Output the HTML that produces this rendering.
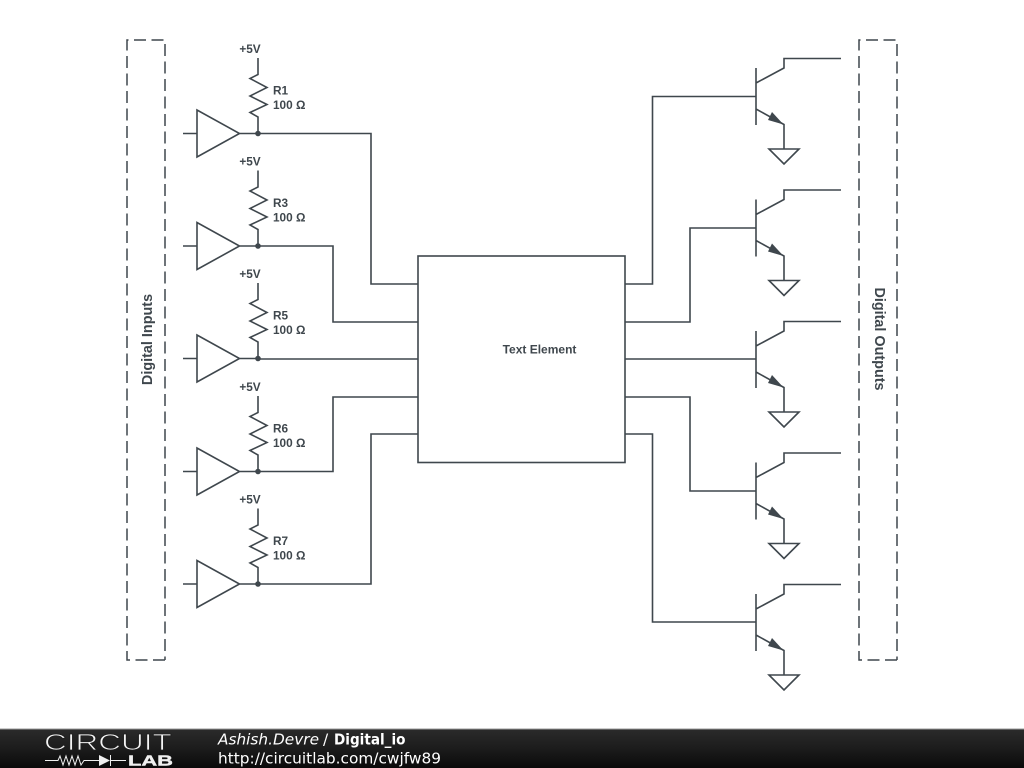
<!DOCTYPE html>
<html><head><meta charset="utf-8"><style>
html,body{margin:0;padding:0;background:#fff}
svg{display:block}
</style></head><body>
<svg width="1024" height="768" viewBox="0 0 1024 768" xmlns="http://www.w3.org/2000/svg">
<defs>
<linearGradient id="g" x1="0" y1="0" x2="0" y2="1"><stop offset="0" stop-color="#2b2b2b"/><stop offset="0.5" stop-color="#1c1c1c"/><stop offset="1" stop-color="#0a0a0a"/></linearGradient>
<g id="q">
<path d="M756 68V125M756 83L784 68V58.500H841M756 109L784 124.500V149M769 149H799L784 164Z"/>
<path d="M783.500 124.500L768 120L772 112Z" fill="#3f474d" stroke="none"/>
</g>
</defs>
<style>
.t{font-family:"Liberation Sans",sans-serif;font-weight:bold;fill:#3f474d;stroke:none}
.w{fill:none;stroke:#3f474d;stroke-width:1.600}
</style>
<rect width="1024" height="768" fill="#fff"/>
<g class="w">
<path d="M165 660H127V40H165V660" stroke-dasharray="12 5.500" stroke-width="1.500"/>
<path d="M897 660H859V40H897V660" stroke-dasharray="12 5.500" stroke-width="1.500"/>
<rect x="418" y="256" width="207" height="206.500"/>
<path d="M258 133.500H371V284H418"/>
<path d="M258 246H333V322H418"/>
<path d="M258 359H418"/>
<path d="M258 471.500H333V397H418"/>
<path d="M258 584H371V434H418"/>
<path d="M625 284H652.500V96.500H756"/>
<path d="M625 322H690V228H756"/>
<path d="M625 359H756"/>
<path d="M625 397H690V491H756"/>
<path d="M625 434H652.500V622H756"/>

<path d="M258 58V74.500L250 78.500L267 87.500L250 96L267 104.500L250 112.500L258 117V133.500"/>
<path d="M197 110V157L239.500 133.500ZM183 133.500H197M239.500 133.500H258"/>
<g transform="translate(0,112.500)"><path d="M258 58V74.500L250 78.500L267 87.500L250 96L267 104.500L250 112.500L258 117V133.500"/><path d="M197 110V157L239.500 133.500ZM183 133.500H197M239.500 133.500H258"/></g>
<g transform="translate(0,225)"><path d="M258 58V74.500L250 78.500L267 87.500L250 96L267 104.500L250 112.500L258 117V133.500"/><path d="M197 110V157L239.500 133.500ZM183 133.500H197M239.500 133.500H258"/></g>
<g transform="translate(0,338)"><path d="M258 58V74.500L250 78.500L267 87.500L250 96L267 104.500L250 112.500L258 117V133.500"/><path d="M197 110V157L239.500 133.500ZM183 133.500H197M239.500 133.500H258"/></g>
<g transform="translate(0,450.500)"><path d="M258 58V74.500L250 78.500L267 87.500L250 96L267 104.500L250 112.500L258 117V133.500"/><path d="M197 110V157L239.500 133.500ZM183 133.500H197M239.500 133.500H258"/></g>

<use href="#q"/>
<use href="#q" y="131.500"/>
<use href="#q" y="263"/>
<use href="#q" y="394.500"/>
<use href="#q" y="526"/>
</g>
<g fill="#3f474d">
<circle cx="258" cy="133.500" r="2.800"/><circle cx="258" cy="246" r="2.800"/><circle cx="258" cy="358.500" r="2.800"/><circle cx="258" cy="471.500" r="2.800"/><circle cx="258" cy="584" r="2.800"/>
</g>
<g class="t" font-size="11.800">
<text x="250" y="53" text-anchor="middle">+5V</text>
<text x="250" y="165.500" text-anchor="middle">+5V</text>
<text x="250" y="278" text-anchor="middle">+5V</text>
<text x="250" y="391" text-anchor="middle">+5V</text>
<text x="250" y="503.500" text-anchor="middle">+5V</text>
<text x="273" y="94.500">R1</text><text x="273" y="109">100 Ω</text>
<text x="273" y="207">R3</text><text x="273" y="221.500">100 Ω</text>
<text x="273" y="319.500">R5</text><text x="273" y="334">100 Ω</text>
<text x="273" y="432.500">R6</text><text x="273" y="447">100 Ω</text>
<text x="273" y="545">R7</text><text x="273" y="559.500">100 Ω</text>
<text x="539.500" y="353.500" text-anchor="middle" font-size="12">Text Element</text>
<text transform="translate(152,339.500) rotate(-90)" text-anchor="middle" font-size="14.400">Digital Inputs</text>
<text transform="translate(875,339) rotate(90)" text-anchor="middle" font-size="14.400">Digital Outputs</text>
</g>

<rect x="0" y="729" width="1024" height="39" fill="url(#g)"/>
<rect x="0" y="728.500" width="1024" height="1" fill="#999"/>
<g transform="translate(44,750) scale(1.37,1)"><text x="0" y="0" font-family="'Liberation Sans',sans-serif" font-size="23" fill="#f4f4f4" stroke="#202020" stroke-width="0.800" paint-order="fill stroke">CIRCUIT</text></g>
<path d="M45 760.500H58L60 756L63 765L66 756L69 765L72 756L75 765L78 756L81 765L84 760.500H99M110.500 755V766M110.500 760.500H126" fill="none" stroke="#f0f0f0" stroke-width="1"/>
<path d="M99 755L110 760.500L99 766Z" fill="#f0f0f0"/>
<text x="128" y="765.500" font-family="'Liberation Sans',sans-serif" font-weight="bold" font-size="15" fill="#f0f0f0" stroke="#f0f0f0" stroke-width="0.400" textLength="45" lengthAdjust="spacingAndGlyphs">LAB</text>
<g font-family="'DejaVu Sans',sans-serif" font-size="15.300" fill="#fff">
<text x="218" y="744.500" font-style="italic" textLength="101" lengthAdjust="spacingAndGlyphs">Ashish.Devre</text>
<text x="323" y="744.500">/</text>
<text x="334" y="744.500" font-weight="bold" textLength="71.500" lengthAdjust="spacingAndGlyphs">Digital_io</text>
<text x="218" y="763.500" textLength="223" lengthAdjust="spacingAndGlyphs">http://circuitlab.com/cwjfw89</text>
</g>
</svg>
</body></html>
